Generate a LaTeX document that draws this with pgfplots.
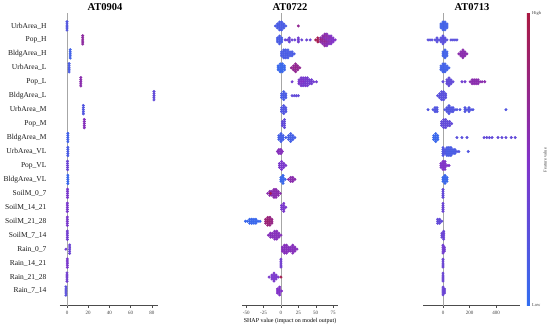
\documentclass[border=0pt]{standalone}
\usepackage{pgfplots}
\pgfplotsset{compat=1.18}
\usepackage{fontspec}
\setmainfont{Liberation Serif}
\pgfplotsset{
  colormap={shap}{rgb255=(50,110,240) rgb255=(130,50,200) rgb255=(170,25,65)},
  panel/.style={
    scale only axis, height=292.5pt, ymin=-0.93, ymax=20.04, y dir=reverse,
    enlargelimits=false,
    axis x line*=bottom, axis y line*=left,
    x axis line style={draw=black!70, line width=0.5pt, -},
    y axis line style={draw=none},
    ytick style={draw=none},
    xtick style={draw=black!70, line width=0.4pt},
    xtick align=outside, major tick length=2.5pt,
    ticklabel style={font=\fontsize{5}{6}\selectfont, text=black!75},
    /pgf/number format/assume math mode=true,
    point meta min=0, point meta max=1, colormap name=shap,
    clip=false,
  },
  pts/.style={scatter, only marks, scatter src=explicit, mark=*, mark size=1.3pt,
    scatter/use mapped color={draw=mapped color, fill=mapped color}},
}
\begin{document}
\begin{tikzpicture}
\useasboundingbox (0,0) rectangle (550pt,325pt);

% ---------------- Panel 1: AT0904
\begin{axis}[panel, at={(60pt,19.5pt)}, anchor=south west, width=98pt,
  xmin=-6.6, xmax=85.8, xtick={0,20,40,60,80},
  ytick={0,...,19},
  yticklabels={UrbArea\_H,Pop\_H,BldgArea\_H,UrbArea\_L,Pop\_L,BldgArea\_L,UrbArea\_M,Pop\_M,BldgArea\_M,UrbArea\_VL,Pop\_VL,BldgArea\_VL,SoilM\_0\_7,SoilM\_14\_21,SoilM\_21\_28,SoilM\_7\_14,Rain\_0\_7,Rain\_14\_21,Rain\_21\_28,Rain\_7\_14},
  yticklabel style={font=\fontsize{7.5}{9}\selectfont, text=black!90, xshift=-10pt},
]
\addplot[black!35, line width=0.6pt, forget plot] coordinates {(0,-0.93) (0,20.04)};
\addplot[pts] table[row sep=\\, meta=c] {
x y c\\
0 -0.3 .2\\ 0 -0.15 .2\\ 0 0 .2\\ 0 0.15 .2\\ 0 0.3 .2\\
14.8 0.7 .65\\ 14.8 0.85 .65\\ 14.8 1 .65\\ 14.8 1.15 .65\\ 14.8 1.3 .65\\
3 1.7 .1\\ 3 1.85 .1\\ 3 2 .1\\ 3 2.15 .1\\ 3 2.3 .1\\
2 2.7 .15\\ 2 2.85 .15\\ 2 3 .15\\ 2 3.15 .15\\ 2 3.3 .15\\
13 3.7 .6\\ 13 3.85 .6\\ 13 4 .6\\ 13 4.15 .6\\ 13 4.3 .6\\
82 4.7 .3\\ 82 4.85 .3\\ 82 5 .3\\ 82 5.15 .3\\ 82 5.3 .3\\
15.4 5.7 .2\\ 15.4 5.85 .2\\ 15.4 6 .2\\ 15.4 6.15 .2\\ 15.4 6.3 .2\\
16.3 6.7 .55\\ 16.3 6.85 .55\\ 16.3 7 .55\\ 16.3 7.15 .55\\ 16.3 7.3 .55\\
0.8 7.7 .1\\ 0.8 7.85 .1\\ 0.8 8 .1\\ 0.8 8.15 .1\\ 0.8 8.3 .1\\
0.8 8.7 .15\\ 0.8 8.85 .15\\ 0.8 9 .15\\ 0.8 9.15 .15\\ 0.8 9.3 .15\\
0.5 9.7 .35\\ 0.5 9.85 .35\\ 0.5 10 .35\\ 0.5 10.15 .35\\ 0.5 10.3 .35\\
0.8 10.7 .05\\ 0.8 10.85 .05\\ 0.8 11 .05\\ 0.8 11.15 .05\\ 0.8 11.3 .05\\
0.5 11.7 .45\\ 0.5 11.85 .45\\ 0.5 12 .45\\ 0.5 12.15 .45\\ 0.5 12.3 .45\\
0.3 12.7 .45\\ 0.3 12.85 .45\\ 0.3 13 .45\\ 0.3 13.15 .45\\ 0.3 13.3 .45\\
0.3 13.7 .45\\ 0.3 13.85 .45\\ 0.3 14 .45\\ 0.3 14.15 .45\\ 0.3 14.3 .45\\
0.3 14.7 .4\\ 0.3 14.85 .4\\ 0.3 15 .4\\ 0.3 15.15 .4\\ 0.3 15.3 .4\\
2.5 15.7 .35\\ 2.5 15.85 .35\\ 2.5 16 .35\\ 2.5 16.15 .35\\ 2.5 16.3 .35\\ -1 16 .4\\
0.3 16.7 .45\\ 0.3 16.85 .45\\ 0.3 17 .45\\ 0.3 17.15 .45\\ 0.3 17.3 .45\\
0 17.7 .4\\ 0 17.85 .4\\ 0 18 .4\\ 0 18.15 .4\\ 0 18.3 .4\\
-1 18.7 .25\\ -1 18.85 .25\\ -1 19 .25\\ -1 19.15 .25\\ -1 19.3 .25\\
};
\end{axis}

% ---------------- Panel 2: AT0722
\begin{axis}[panel, at={(242pt,19.5pt)}, anchor=south west, width=96pt,
  xmin=-56, xmax=82, xtick={-50,-25,0,25,50,75},
  ytick=\empty,
  xlabel={SHAP value (impact on model output)},
  xlabel style={font=\fontsize{6}{7}\selectfont, yshift=3pt},
]
\addplot[black!35, line width=0.6pt, forget plot] coordinates {(0,-0.93) (0,20.04)};
\addplot[pts] table[row sep=\\, meta=c] {
x y c\\
-8 0 .15\\ -5 -0.14 .15\\ -5 0 .15\\ -5 0.14 .15\\
-2 -0.28 .15\\ -2 -0.14 .15\\ -2 0 .15\\ -2 0.14 .15\\ -2 0.28 .15\\
1 -0.28 .15\\ 1 -0.14 .15\\ 1 0 .15\\ 1 0.14 .15\\ 1 0.28 .15\\
4 -0.14 .15\\ 4 0 .15\\ 4 0.14 .15\\ 7 0 .15\\ 25 0 .7\\
-5 0.86 .15\\ -5 1 .15\\ -5 1.14 .15\\
-2 0.72 .15\\ -2 0.86 .15\\ -2 1 .15\\ -2 1.14 .15\\ -2 1.28 .15\\
1 0.86 .15\\ 1 1 .15\\ 1 1.14 .15\\
6 1 .35\\ 9 1 .35\\ 12 0.86 .35\\ 12 1 .35\\ 12 1.14 .35\\ 16 1 .35\\ 20 1 .35\\
25 0.86 .4\\ 25 1 .4\\ 25 1.14 .4\\ 30 1 .35\\ 37 1 .35\\ 42 1 .35\\
50 1 .95\\ 53 0.86 .95\\ 53 1 .9\\ 53 1.14 .95\\
57 0.86 .65\\ 57 1 .8\\ 57 1.14 .65\\
60 0.72 .6\\ 60 0.86 .65\\ 60 1 .7\\ 60 1.14 .65\\ 60 1.28 .6\\
63 0.58 .6\\ 63 0.72 .65\\ 63 0.86 .55\\ 63 1 .65\\ 63 1.14 .7\\ 63 1.28 .6\\ 63 1.42 .65\\
66 0.58 .55\\ 66 0.72 .65\\ 66 0.86 .6\\ 66 1 .55\\ 66 1.14 .65\\ 66 1.28 .6\\ 66 1.42 .55\\
69 0.72 .55\\ 69 0.86 .6\\ 69 1 .55\\ 69 1.14 .6\\ 69 1.28 .55\\
72 0.72 .5\\ 72 0.86 .55\\ 72 1 .5\\ 72 1.14 .55\\ 72 1.28 .5\\
75 0.86 .5\\ 75 1 .5\\ 75 1.14 .5\\ 78 1 .5\\
1 1.86 .15\\ 1 2 .15\\ 1 2.14 .15\\
4 1.72 .15\\ 4 1.86 .15\\ 4 2 .15\\ 4 2.14 .15\\ 4 2.28 .15\\
7 1.72 .15\\ 7 1.86 .15\\ 7 2 .15\\ 7 2.14 .15\\ 7 2.28 .15\\
10 1.72 .15\\ 10 1.86 .15\\ 10 2 .15\\ 10 2.14 .15\\ 10 2.28 .15\\
13 1.86 .15\\ 13 2 .15\\ 13 2.14 .15\\ 16 1.86 .15\\ 16 2 .15\\ 16 2.14 .15\\ 19 2 .15\\
-4 2.86 .05\\ -4 3 .05\\ -4 3.14 .05\\
-1 2.72 .05\\ -1 2.86 .05\\ -1 3 .05\\ -1 3.14 .05\\ -1 3.28 .05\\
2 2.72 .05\\ 2 2.86 .05\\ 2 3 .05\\ 2 3.14 .05\\ 2 3.28 .05\\
5 2.86 .05\\ 5 3 .05\\ 5 3.14 .05\\
15 3 .7\\ 18 2.86 .7\\ 18 3 .7\\ 18 3.14 .7\\
21 2.72 .7\\ 21 2.86 .7\\ 21 3 .75\\ 21 3.14 .7\\ 21 3.28 .7\\
24 2.86 .7\\ 24 3 .7\\ 24 3.14 .7\\ 27 3 .7\\
16 4 .4\\ 26 3.86 .45\\ 26 4 .45\\ 26 4.14 .45\\
29 3.72 .45\\ 29 3.86 .45\\ 29 4 .5\\ 29 4.14 .45\\ 29 4.28 .45\\
32 3.72 .4\\ 32 3.86 .45\\ 32 4 .5\\ 32 4.14 .45\\ 32 4.28 .4\\
35 3.72 .45\\ 35 3.86 .4\\ 35 4 .45\\ 35 4.14 .4\\ 35 4.28 .45\\
38 3.72 .4\\ 38 3.86 .45\\ 38 4 .4\\ 38 4.14 .45\\ 38 4.28 .4\\
41 3.86 .4\\ 41 4 .4\\ 41 4.14 .4\\ 44 3.86 .4\\ 44 4 .4\\ 44 4.14 .4\\ 47 4 .4\\ 51 4 .4\\
1 4.86 .15\\ 1 5 .15\\ 1 5.14 .15\\
4 4.72 .15\\ 4 4.86 .15\\ 4 5 .15\\ 4 5.14 .15\\ 4 5.28 .15\\
7 4.86 .15\\ 7 5 .15\\ 7 5.14 .15\\
16 5 .3\\ 19 5 .3\\ 22 5 .3\\ 25 5 .3\\
1 5.86 .2\\ 1 6 .2\\ 1 6.14 .2\\
4 5.72 .2\\ 4 5.86 .2\\ 4 6 .2\\ 4 6.14 .2\\ 4 6.28 .2\\
7 5.86 .2\\ 7 6 .2\\ 7 6.14 .2\\
2 6.86 .3\\ 2 7 .3\\ 2 7.14 .3\\
5 6.72 .3\\ 5 6.86 .3\\ 5 7 .3\\ 5 7.14 .3\\ 5 7.28 .3\\
-3 7.86 .12\\ -3 8 .12\\ -3 8.14 .12\\
0 7.72 .12\\ 0 7.86 .12\\ 0 8 .12\\ 0 8.14 .12\\ 0 8.28 .12\\
3 7.86 .12\\ 3 8 .12\\ 3 8.14 .12\\ 7 8 .12\\
11 7.86 .12\\ 11 8 .12\\ 11 8.14 .12\\
14 7.72 .12\\ 14 7.86 .12\\ 14 8 .12\\ 14 8.14 .12\\ 14 8.28 .12\\
17 7.86 .12\\ 17 8 .12\\ 17 8.14 .12\\ 20 8 .12\\
-5 9 .55\\ -3 8.86 .55\\ -3 9 .55\\ -3 9.14 .55\\ 0 8.86 .55\\ 0 9 .55\\ 0 9.14 .55\\ 2 9 .55\\
-2 9.86 .45\\ -2 10 .45\\ -2 10.14 .45\\
1 9.72 .45\\ 1 9.86 .45\\ 1 10 .45\\ 1 10.14 .45\\ 1 10.28 .45\\
4 9.86 .45\\ 4 10 .45\\ 4 10.14 .45\\ 7 10 .45\\
0 10.86 .05\\ 0 11 .05\\ 0 11.14 .05\\
3 10.72 .05\\ 3 10.86 .05\\ 3 11 .05\\ 3 11.14 .05\\ 3 11.28 .05\\ 6 11 .05\\
11 11 .6\\ 14 10.86 .6\\ 14 11 .6\\ 14 11.14 .6\\ 17 10.86 .6\\ 17 11 .6\\ 17 11.14 .6\\ 20 11 .6\\
-19 12 .6\\ -16 11.86 .6\\ -16 12 .6\\ -16 12.14 .6\\
-13 11.86 .6\\ -13 12 .6\\ -13 12.14 .6\\
-10 11.72 .6\\ -10 11.86 .6\\ -10 12 .6\\ -10 12.14 .6\\ -10 12.28 .6\\
-7 11.72 .6\\ -7 11.86 .6\\ -7 12 .6\\ -7 12.14 .6\\ -7 12.28 .6\\
-4 11.86 .6\\ -4 12 .6\\ -4 12.14 .6\\ -1 12 .6\\ -15 12 .95\\
1 12.86 .45\\ 1 13 .45\\ 1 13.14 .45\\
4 12.72 .45\\ 4 12.86 .45\\ 4 13 .45\\ 4 13.14 .45\\ 4 13.28 .45\\ 7 13 .45\\
-51 14 .05\\ -48 14 .05\\ -45 13.86 .05\\ -45 14 .05\\ -45 14.14 .05\\
-42 13.86 .05\\ -42 14 .05\\ -42 14.14 .05\\ -39 13.86 .05\\ -39 14 .05\\ -39 14.14 .05\\
-36 13.86 .05\\ -36 14 .05\\ -36 14.14 .05\\ -33 14 .05\\ -30 14 .05\\
-22 13.86 .8\\ -22 14 .8\\ -22 14.14 .8\\
-19 13.72 .8\\ -19 13.86 .8\\ -19 14 .85\\ -19 14.14 .8\\ -19 14.28 .8\\
-16 13.72 .75\\ -16 13.86 .8\\ -16 14 .8\\ -16 14.14 .8\\ -16 14.28 .75\\
-13 13.86 .75\\ -13 14 .75\\ -13 14.14 .75\\
-18 15 .55\\ -15 14.86 .55\\ -15 15 .55\\ -15 15.14 .55\\
-12 14.86 .55\\ -12 15 .55\\ -12 15.14 .55\\
-9 14.72 .55\\ -9 14.86 .55\\ -9 15 .55\\ -9 15.14 .55\\ -9 15.28 .55\\
-6 14.72 .55\\ -6 14.86 .55\\ -6 15 .55\\ -6 15.14 .55\\ -6 15.28 .55\\
-3 14.86 .55\\ -3 15 .55\\ -3 15.14 .55\\ 0 15 .55\\
2 15.86 .55\\ 2 16 .55\\ 2 16.14 .55\\
5 15.72 .55\\ 5 15.86 .55\\ 5 16 .55\\ 5 16.14 .55\\ 5 16.28 .55\\
8 15.72 .55\\ 8 15.86 .55\\ 8 16 .55\\ 8 16.14 .55\\ 8 16.28 .55\\
11 15.86 .55\\ 11 16 .55\\ 11 16.14 .55\\ 14 15.86 .55\\ 14 16 .55\\ 14 16.14 .55\\
17 15.72 .55\\ 17 15.86 .55\\ 17 16 .55\\ 17 16.14 .55\\ 17 16.28 .55\\
20 15.86 .55\\ 20 16 .55\\ 20 16.14 .55\\ 23 16 .55\\
0 16.72 .4\\ 0 16.86 .4\\ 0 17 .4\\ 0 17.14 .4\\ 0 17.28 .4\\
-17 18 .45\\ -13 17.86 .45\\ -13 18 .45\\ -13 18.14 .45\\
-10 17.72 .45\\ -10 17.86 .45\\ -10 18 .45\\ -10 18.14 .45\\ -10 18.28 .45\\
-7 17.86 .45\\ -7 18 .45\\ -7 18.14 .45\\ -4 18 .45\\ 0 18 .95\\
-5 18.86 .5\\ -5 19 .5\\ -5 19.14 .5\\
-2 18.72 .5\\ -2 18.86 .5\\ -2 19 .5\\ -2 19.14 .5\\ -2 19.28 .5\\ 1 19 .5\\
};
\end{axis}

% ---------------- Panel 3: AT0713
\begin{axis}[panel, at={(423pt,19.5pt)}, anchor=south west, width=97pt,
  xmin=-151, xmax=581, xtick={0,200,400},
  ytick=\empty,
  colorbar,
  colorbar style={at={(1.072,1)}, anchor=north west, width=3pt, height=292.5pt,
    scale only axis, ytick=\empty, xtick=\empty, axis line style={draw=none}},
]
\addplot[black!35, line width=0.6pt, forget plot] coordinates {(0,-0.93) (0,20.04)};
\addplot[pts] table[row sep=\\, meta=c] {
x y c\\
-15 -0.14 .1\\ -15 0 .1\\ -15 0.14 .1\\
0 -0.28 .1\\ 0 -0.14 .1\\ 0 0 .1\\ 0 0.14 .1\\ 0 0.28 .1\\
15 -0.28 .1\\ 15 -0.14 .1\\ 15 0 .1\\ 15 0.14 .1\\ 15 0.28 .1\\
30 -0.14 .1\\ 30 0 .1\\ 30 0.14 .1\\
-113 1 .25\\ -98 1 .25\\ -83 1 .25\\ -60 1 .25\\ -45 0.86 .25\\ -45 1 .25\\ -45 1.14 .25\\ -30 1 .25\\
-15 0.86 .25\\ -15 1 .25\\ -15 1.14 .25\\
0 0.72 .25\\ 0 0.86 .25\\ 0 1 .25\\ 0 1.14 .25\\ 0 1.28 .25\\
15 0.86 .25\\ 15 1 .25\\ 15 1.14 .25\\ 30 1 .25\\ 60 1 .25\\ 75 1 .25\\ 90 1 .25\\ 105 1 .25\\
0 1.86 .1\\ 0 2 .1\\ 0 2.14 .1\\
15 1.72 .1\\ 15 1.86 .1\\ 15 2 .1\\ 15 2.14 .1\\ 15 2.28 .1\\
30 1.86 .1\\ 30 2 .1\\ 30 2.14 .1\\
120 2 .6\\ 135 1.86 .6\\ 135 2 .6\\ 135 2.14 .6\\
150 1.72 .6\\ 150 1.86 .6\\ 150 2 .6\\ 150 2.14 .6\\ 150 2.28 .6\\
165 1.86 .6\\ 165 2 .6\\ 165 2.14 .6\\ 180 2 .6\\
-15 2.86 .1\\ -15 3 .1\\ -15 3.14 .1\\
0 2.72 .1\\ 0 2.86 .1\\ 0 3 .1\\ 0 3.14 .1\\ 0 3.28 .1\\
15 2.72 .1\\ 15 2.86 .1\\ 15 3 .1\\ 15 3.14 .1\\ 15 3.28 .1\\
30 2.86 .1\\ 30 3 .1\\ 30 3.14 .1\\ 45 3 .1\\
0 4 .3\\ 30 3.86 .3\\ 30 4 .3\\ 30 4.14 .3\\
45 3.72 .3\\ 45 3.86 .3\\ 45 4 .3\\ 45 4.14 .3\\ 45 4.28 .3\\
60 3.86 .3\\ 60 4 .3\\ 60 4.14 .3\\ 75 4 .3\\ 143 4 .4\\ 166 4 .4\\
205 4 .6\\ 220 3.86 .6\\ 220 4 .6\\ 220 4.14 .6\\ 235 3.86 .6\\ 235 4 .6\\ 235 4.14 .6\\
250 3.86 .6\\ 250 4 .6\\ 250 4.14 .6\\ 265 3.86 .6\\ 265 4 .6\\ 265 4.14 .6\\
280 4 .6\\ 295 4 .6\\ 315 4 .6\\
-40 5 .25\\ -25 4.86 .25\\ -25 5 .25\\ -25 5.14 .25\\
-10 4.72 .25\\ -10 4.86 .25\\ -10 5 .25\\ -10 5.14 .25\\ -10 5.28 .25\\
5 4.72 .25\\ 5 4.86 .25\\ 5 5 .25\\ 5 5.14 .25\\ 5 5.28 .25\\
20 4.86 .25\\ 20 5 .25\\ 20 5.14 .25\\
-113 6 .2\\ -75 6 .2\\ -60 5.86 .2\\ -60 6 .2\\ -60 6.14 .2\\ -45 5.86 .2\\ -45 6 .2\\ -45 6.14 .2\\
15 6 .2\\ 30 5.86 .2\\ 30 6 .2\\ 30 6.14 .2\\
45 5.72 .2\\ 45 5.86 .2\\ 45 6 .2\\ 45 6.14 .2\\ 45 6.28 .2\\
60 5.86 .2\\ 60 6 .2\\ 60 6.14 .2\\ 75 5.86 .2\\ 75 6 .2\\ 75 6.14 .2\\
90 6 .2\\ 105 6 .2\\ 128 6 .2\\ 166 5.86 .2\\ 166 6 .2\\ 166 6.14 .2\\ 181 6 .2\\
196 5.86 .2\\ 196 6 .2\\ 196 6.14 .2\\ 211 6 .2\\ 226 6 .2\\ 475 6 .2\\
-10 6.86 .3\\ -10 7 .3\\ -10 7.14 .3\\
5 6.72 .3\\ 5 6.86 .3\\ 5 7 .3\\ 5 7.14 .3\\ 5 7.28 .3\\
20 6.72 .3\\ 20 6.86 .3\\ 20 7 .3\\ 20 7.14 .3\\ 20 7.28 .3\\
35 6.86 .3\\ 35 7 .3\\ 35 7.14 .3\\ 50 6.86 .3\\ 50 7 .3\\ 50 7.14 .3\\ 65 7 .3\\
-70 7.86 .05\\ -70 8 .05\\ -70 8.14 .05\\
-55 7.72 .05\\ -55 7.86 .05\\ -55 8 .05\\ -55 8.14 .05\\ -55 8.28 .05\\
-40 7.86 .05\\ -40 8 .05\\ -40 8.14 .05\\
105 8 .25\\ 143 8 .25\\ 181 8 .25\\
310 8 .3\\ 330 8 .3\\ 350 8 .3\\ 370 8 .3\\ 415 8 .3\\ 445 8 .3\\ 475 8 .3\\ 515 8 .3\\ 545 8 .3\\
0 8.72 .2\\ 0 8.86 .2\\ 0 9 .2\\ 0 9.14 .2\\ 0 9.28 .2\\
15 8.86 .2\\ 15 9 .2\\ 15 9.14 .2\\
30 8.72 .15\\ 30 8.86 .15\\ 30 9 .15\\ 30 9.14 .15\\ 30 9.28 .15\\
45 8.72 .15\\ 45 8.86 .15\\ 45 9 .15\\ 45 9.14 .15\\ 45 9.28 .15\\
60 8.72 .15\\ 60 8.86 .15\\ 60 9 .15\\ 60 9.14 .15\\ 60 9.28 .15\\
75 8.86 .15\\ 75 9 .15\\ 75 9.14 .15\\ 90 8.86 .15\\ 90 9 .15\\ 90 9.14 .15\\
105 9 .2\\ 120 9 .2\\ 190 9 .2\\
-15 9.86 .5\\ -15 10 .5\\ -15 10.14 .5\\
0 9.72 .5\\ 0 9.86 .5\\ 0 10 .5\\ 0 10.14 .5\\ 0 10.28 .5\\
15 9.72 .5\\ 15 9.86 .5\\ 15 10 .5\\ 15 10.14 .5\\ 15 10.28 .5\\ 30 10 .5\\ 45 10 .5\\
0 10.86 .05\\ 0 11 .05\\ 0 11.14 .05\\
15 10.72 .05\\ 15 10.86 .05\\ 15 11 .05\\ 15 11.14 .05\\ 15 11.28 .05\\
30 10.86 .05\\ 30 11 .05\\ 30 11.14 .05\\
0 11.72 .3\\ 0 11.86 .3\\ 0 12 .3\\ 0 12.14 .3\\ 0 12.28 .3\\
0 12.72 .35\\ 0 12.86 .35\\ 0 13 .35\\ 0 13.14 .35\\ 0 13.28 .35\\
-40 13.86 .3\\ -40 14 .3\\ -40 14.14 .3\\ -25 13.86 .3\\ -25 14 .3\\ -25 14.14 .3\\ -10 14 .3\\
-8 14.86 .35\\ -8 15 .35\\ -8 15.14 .35\\
5 14.72 .35\\ 5 14.86 .35\\ 5 15 .35\\ 5 15.14 .35\\ 5 15.28 .35\\
0 15.72 .4\\ 0 15.86 .4\\ 0 16 .4\\ 0 16.14 .4\\ 0 16.28 .4\\ 10 15.86 .4\\ 10 16 .4\\ 10 16.14 .4\\
0 16.72 .35\\ 0 16.86 .35\\ 0 17 .35\\ 0 17.14 .35\\ 0 17.28 .35\\
0 17.72 .35\\ 0 17.86 .35\\ 0 18 .35\\ 0 18.14 .35\\ 0 18.28 .35\\
0 18.72 .35\\ 0 18.86 .35\\ 0 19 .35\\ 0 19.14 .35\\ 0 19.28 .35\\ 12 18.86 .35\\ 12 19 .35\\ 12 19.14 .35\\
};
\end{axis}

\node[font=\bfseries\fontsize{10.5}{12}\selectfont, inner sep=0pt] at (105pt,318pt) {AT0904};
\node[font=\bfseries\fontsize{10.5}{12}\selectfont, inner sep=0pt] at (290pt,318pt) {AT0722};
\node[font=\bfseries\fontsize{10.5}{12}\selectfont, inner sep=0pt] at (472pt,318pt) {AT0713};
\node[anchor=west, font=\fontsize{4.5}{5}\selectfont, text=black!75, inner sep=0pt] at (532pt,312pt) {High};
\node[anchor=west, font=\fontsize{4.5}{5}\selectfont, text=black!75, inner sep=0pt] at (532pt,19.5pt) {Low};
\node[rotate=90, font=\fontsize{4.5}{5}\selectfont, text=black!75, inner sep=0pt] at (545pt,165pt) {Feature value};
\end{tikzpicture}
\end{document}
